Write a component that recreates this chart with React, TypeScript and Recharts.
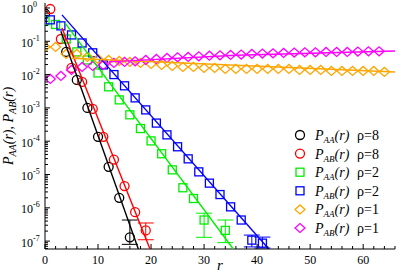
import { ErrorBar, Label, Legend, Scatter, ScatterChart, XAxis, YAxis } from "recharts";

// P_AA(r), rho = 8
const aaRho8 = [
  { r: 0, p: 0.68 },
  { r: 4, p: 0.048 },
  { r: 6, p: 6.9e-3 },
  { r: 8, p: 1.0e-3 },
  { r: 10, p: 1.35e-4 },
  { r: 12, p: 1.7e-5 },
  { r: 14, p: 2.0e-6 },
  { r: 16, p: 1.3e-7, err: [0.5e-7, 3.0e-7] },
];

// P_AB(r), rho = 8
const abRho8 = [
  { r: 1, p: 0.93 },
  { r: 3, p: 0.117 },
  { r: 5, p: 0.0158 },
  { r: 7, p: 6.0e-3 },
  { r: 9, p: 9.3e-4 },
  { r: 11, p: 1.35e-4 },
  { r: 13, p: 2.8e-5 },
  { r: 15, p: 4.5e-6 },
  { r: 17, p: 7.4e-7 },
  { r: 19, p: 2.1e-7, err: [1.0e-7, 1.4e-7] },
];

// P_AA(r), rho = 2
const aaRho2 = [
  { r: 0, p: 0.41 },
  { r: 2, p: 0.32 },
  { r: 4, p: 0.117 },
  { r: 6, p: 0.048 },
  { r: 8, p: 0.0275 },
  { r: 10, p: 0.0112 },
  { r: 12, p: 4.3e-3 },
  { r: 14, p: 1.74e-3 },
  { r: 16, p: 6.2e-4 },
  { r: 18, p: 2.4e-4 },
  { r: 20, p: 1.02e-4 },
  { r: 22, p: 4.2e-5 },
  { r: 24, p: 1.38e-5 },
  { r: 26, p: 4.0e-6 },
  { r: 28, p: 1.9e-6 },
  { r: 30, p: 4.3e-7, err: [3.0e-7, 2.6e-7] },
  { r: 34, p: 2.1e-7, err: [1.2e-7, 2.2e-7] },
];

// P_AB(r), rho = 2
const abRho2 = [
  { r: 1, p: 0.44 },
  { r: 3, p: 0.29 },
  { r: 5, p: 0.155 },
  { r: 7, p: 0.089 },
  { r: 9, p: 0.045 },
  { r: 11, p: 0.0195 },
  { r: 13, p: 0.01 },
  { r: 15, p: 4.6e-3 },
  { r: 17, p: 2.0e-3 },
  { r: 19, p: 8.7e-4 },
  { r: 21, p: 3.5e-4 },
  { r: 23, p: 1.55e-4 },
  { r: 25, p: 6.8e-5 },
  { r: 27, p: 2.95e-5 },
  { r: 29, p: 1.2e-5 },
  { r: 31, p: 5.5e-6 },
  { r: 33, p: 2.5e-6 },
  { r: 35, p: 1.07e-6 },
  { r: 37, p: 4.3e-7 },
  { r: 39, p: 1.07e-7, err: [0.4e-7, 0.45e-7] },
  { r: 41, p: 8.7e-8, err: [0.25e-7, 0.45e-7] },
];

// P_AA(r), rho = 1 (even r)
const aaRho1 = [
  0.0676, 0.0676, 0.0417, 0.0417, 0.0339, 0.0295, 0.0275, 0.0257, 0.024, 0.0224,
  0.0209, 0.0195, 0.0182, 0.017, 0.017, 0.0158, 0.0158, 0.0148, 0.0148, 0.0148,
  0.0148, 0.0148, 0.0148, 0.0148, 0.0138, 0.0138, 0.0138, 0.0129, 0.0129, 0.0129,
  0.0129, 0.0129, 0.012,
].map((p, i) => ({ r: 2 * i, p }));

// P_AB(r), rho = 1 (odd r)
const abRho1 = [
  0.0074, 0.0091, 0.0138, 0.017, 0.0182, 0.0195, 0.0224, 0.024, 0.025, 0.0275,
  0.0295, 0.0316, 0.033, 0.0339, 0.0355, 0.037, 0.038, 0.039, 0.04, 0.0417,
  0.0427, 0.0437, 0.0447, 0.0457, 0.0468, 0.0468, 0.0479, 0.0479, 0.0479, 0.049,
  0.05, 0.05,
].map((p, i) => ({ r: 2 * i + 1, p }));

// fitted lines
const fitAaRho8 = [
  { r: 3, p: 0.2 },
  { r: 17.6, p: 5.8e-8 },
];
const fitAbRho8 = [
  { r: 3.2, p: 0.25 },
  { r: 19.8, p: 5.8e-8 },
];
const fitAaRho2 = [
  { r: 3.8, p: 0.35 },
  { r: 35.5, p: 5.8e-8 },
];
const fitAbRho2 = [
  { r: 3.2, p: 0.62 },
  { r: 42.2, p: 5.8e-8 },
];
const fitAaRho1 = [
  { r: 5, p: 0.031 },
  { r: 66, p: 0.012 },
];
const fitAbRho1 = [
  { r: 12, p: 0.024 },
  { r: 36, p: 0.038 },
  { r: 66, p: 0.051 },
];

const xTicks = [0, 2, 4, 6, 8, 10, 12, 14, 16, 18, 20, 22, 24, 26, 28, 30, 32, 34, 36, 38, 40, 42, 44, 46, 48, 50, 52, 54, 56, 58, 60, 62, 64, 66];
const yDecades = [1e-8, 1e-7, 1e-6, 1e-5, 1e-4, 1e-3, 1e-2, 1e-1, 1];

const Y_MIN = 5.8e-8;
const Y_MAX = 1.41;
const yTicks = yDecades
  .flatMap((d) => [1, 2, 3, 4, 5, 6, 7, 8, 9].map((m) => m * d))
  .filter((v) => v >= Y_MIN && v <= Y_MAX);

const W = 398;
const H = 275;
const MARGIN = { top: 3, right: 3, bottom: 0, left: 0 };
const Y_AXIS_W = 45;
const X_AXIS_H = 26;
const PL = MARGIN.left + Y_AXIS_W;
const PR = W - MARGIN.right;
const PT = MARGIN.top;
const PB = H - X_AXIS_H;

const FONT = "'Liberation Serif', 'Times New Roman', serif";

const legendItems = [
  { sub: "AA", rho: "8", color: "#000000", mark: "circle" },
  { sub: "AB", rho: "8", color: "#ff0000", mark: "circle" },
  { sub: "AA", rho: "2", color: "#00ee00", mark: "square" },
  { sub: "AB", rho: "2", color: "#0000ff", mark: "square" },
  { sub: "AA", rho: "1", color: "#ffa500", mark: "diamond" },
  { sub: "AB", rho: "1", color: "#ff00ff", mark: "diamond" },
];

function Marker({ cx, cy, mark, color }: { cx: number; cy: number; mark: string; color: string }) {
  const sw = 1.3;
  if (mark === "circle") return <circle cx={cx} cy={cy} r={4.5} fill="none" stroke={color} strokeWidth={sw} />;
  if (mark === "square")
    return <rect x={cx - 4} y={cy - 4} width={8} height={8} fill="none" stroke={color} strokeWidth={sw} />;
  return (
    <polygon
      points={`${cx - 5},${cy} ${cx},${cy - 4.5} ${cx + 5},${cy} ${cx},${cy + 4.5}`}
      fill="none"
      stroke={color}
      strokeWidth={sw}
    />
  );
}

const shapeOf = (mark: string, color: string) => (props: any) =>
  <Marker cx={props.cx} cy={props.cy} mark={mark} color={color} />;

const noShape = () => <g />;

function BottomTick(props: any) {
  const { x, payload } = props;
  const major = payload.value % 10 === 0;
  return (
    <g>
      <line x1={x} x2={x} y1={PB} y2={PB - (major ? 5 : 3)} stroke="#000" />
      {major && (
        <text x={x} y={PB + 15} textAnchor="middle" fontSize={12} fontFamily={FONT} fill="#000">
          {payload.value}
        </text>
      )}
    </g>
  );
}

function TopTick(props: any) {
  const { x, payload } = props;
  const major = payload.value % 10 === 0;
  return <line x1={x} x2={x} y1={PT} y2={PT + (major ? 5 : 3)} stroke="#000" />;
}

function isDecade(v: number) {
  const e = Math.round(Math.log10(v));
  return Math.abs(v - Math.pow(10, e)) / v < 1e-6;
}

function LeftTick(props: any) {
  const { y, payload } = props;
  const major = isDecade(payload.value);
  const e = Math.round(Math.log10(payload.value));
  return (
    <g>
      <line x1={PL} x2={PL + (major ? 5 : 3)} y1={y} y2={y} stroke="#000" />
      {major && (
        <text x={PL - 24} y={y + 5.5} fontSize={12} fontFamily={FONT} fill="#000">
          10
          <tspan dy={-6} fontSize={8}>
            {e}
          </tspan>
        </text>
      )}
    </g>
  );
}

function RightTick(props: any) {
  const { y, payload } = props;
  const major = isDecade(payload.value);
  return <line x1={PR} x2={PR - (major ? 5 : 3)} y1={y} y2={y} stroke="#000" />;
}

function YTitle() {
  return (
    <text
      transform={`translate(13, ${(PT + PB) / 2}) rotate(-90)`}
      textAnchor="middle"
      fontSize={14}
      fontStyle="italic"
      fontFamily={FONT}
      fill="#000"
    >
      P
      <tspan dy={3} fontSize={10}>
        AA
      </tspan>
      <tspan dy={-3}>(r), P</tspan>
      <tspan dy={3} fontSize={10}>
        AB
      </tspan>
      <tspan dy={-3}>(r)</tspan>
    </text>
  );
}

function XTitle() {
  return (
    <text x={(PL + PR) / 2} y={270} textAnchor="middle" fontSize={15} fontStyle="italic" fontFamily={FONT} fill="#000">
      r
    </text>
  );
}

function LegendBox() {
  return (
    <svg width={105} height={122} style={{ display: "block", overflow: "visible" }}>
      {legendItems.map((item, i) => {
        const cy = 11 + i * 18.6;
        return (
          <g key={i}>
            <Marker cx={10} cy={cy} mark={item.mark} color={item.color} />
            <text x={25} y={cy + 5} fontSize={14} fontFamily={FONT} fill="#000">
              <tspan fontStyle="italic">P</tspan>
              <tspan dy={3} fontSize={9} fontStyle="italic">
                {item.sub}
              </tspan>
              <tspan dy={-3} fontStyle="italic">
                (r)
              </tspan>
            </text>
            <text x={67} y={cy + 5} fontSize={14} fontFamily={FONT} fill="#000">
              ρ={item.rho}
            </text>
          </g>
        );
      })}
    </svg>
  );
}

const markerSeries = [
  { data: aaRho8, mark: "circle", color: "#000000" },
  { data: abRho8, mark: "circle", color: "#ff0000" },
  { data: aaRho2, mark: "square", color: "#00ee00" },
  { data: abRho2, mark: "square", color: "#0000ff" },
  { data: aaRho1, mark: "diamond", color: "#ffa500" },
  { data: abRho1, mark: "diamond", color: "#ff00ff" },
];

const fitSeries = [
  { data: fitAaRho8, color: "#000000" },
  { data: fitAbRho8, color: "#ff0000" },
  { data: fitAaRho2, color: "#00ee00" },
  { data: fitAbRho2, color: "#0000ff" },
  { data: fitAaRho1, color: "#ffa500" },
  { data: fitAbRho1, color: "#ff00ff" },
];

export default function App() {
  return (
    <div style={{ position: "absolute", left: 0, top: 0, width: W, height: H, background: "#fff" }}>
      <ScatterChart width={W} height={H} margin={MARGIN}>
        <XAxis
          dataKey="r"
          type="number"
          domain={[0, 66]}
          ticks={xTicks}
          interval={0}
          height={X_AXIS_H}
          tickLine={false}
          tick={<BottomTick />}
          stroke="#000"
          allowDataOverflow
        >
          <Label content={<XTitle />} />
        </XAxis>
        <XAxis
          xAxisId="top"
          orientation="top"
          dataKey="r"
          type="number"
          domain={[0, 66]}
          ticks={xTicks}
          interval={0}
          height={0}
          tickLine={false}
          tick={<TopTick />}
          stroke="#000"
          allowDataOverflow
        />
        <YAxis
          dataKey="p"
          type="number"
          scale="log"
          domain={[Y_MIN, Y_MAX]}
          ticks={yTicks}
          interval={0}
          width={Y_AXIS_W}
          tickLine={false}
          tick={<LeftTick />}
          stroke="#000"
          allowDataOverflow
        >
          <Label content={<YTitle />} />
        </YAxis>
        <YAxis
          yAxisId="right"
          orientation="right"
          dataKey="p"
          type="number"
          scale="log"
          domain={[Y_MIN, Y_MAX]}
          ticks={yTicks}
          interval={0}
          width={0}
          tickLine={false}
          tick={<RightTick />}
          stroke="#000"
          allowDataOverflow
        />
        {markerSeries.map((s, i) => (
          <Scatter
            key={`m${i}`}
            data={s.data}
            shape={shapeOf(s.mark, s.color)}
            isAnimationActive={false}
          >
            <ErrorBar dataKey="err" direction="y" width={8} stroke={s.color} strokeWidth={1} isAnimationActive={false} />
          </Scatter>
        ))}
        {fitSeries.map((s, i) => (
          <Scatter
            key={`f${i}`}
            data={s.data}
            line={{ stroke: s.color, strokeWidth: 1.4 }}
            shape={noShape}
            isAnimationActive={false}
          />
        ))}
        <Legend
          layout="vertical"
          align="center"
          verticalAlign="middle"
          wrapperStyle={{ left: 290, top: 124, width: 105, height: 122 }}
          content={<LegendBox />}
        />
      </ScatterChart>
    </div>
  );
}
